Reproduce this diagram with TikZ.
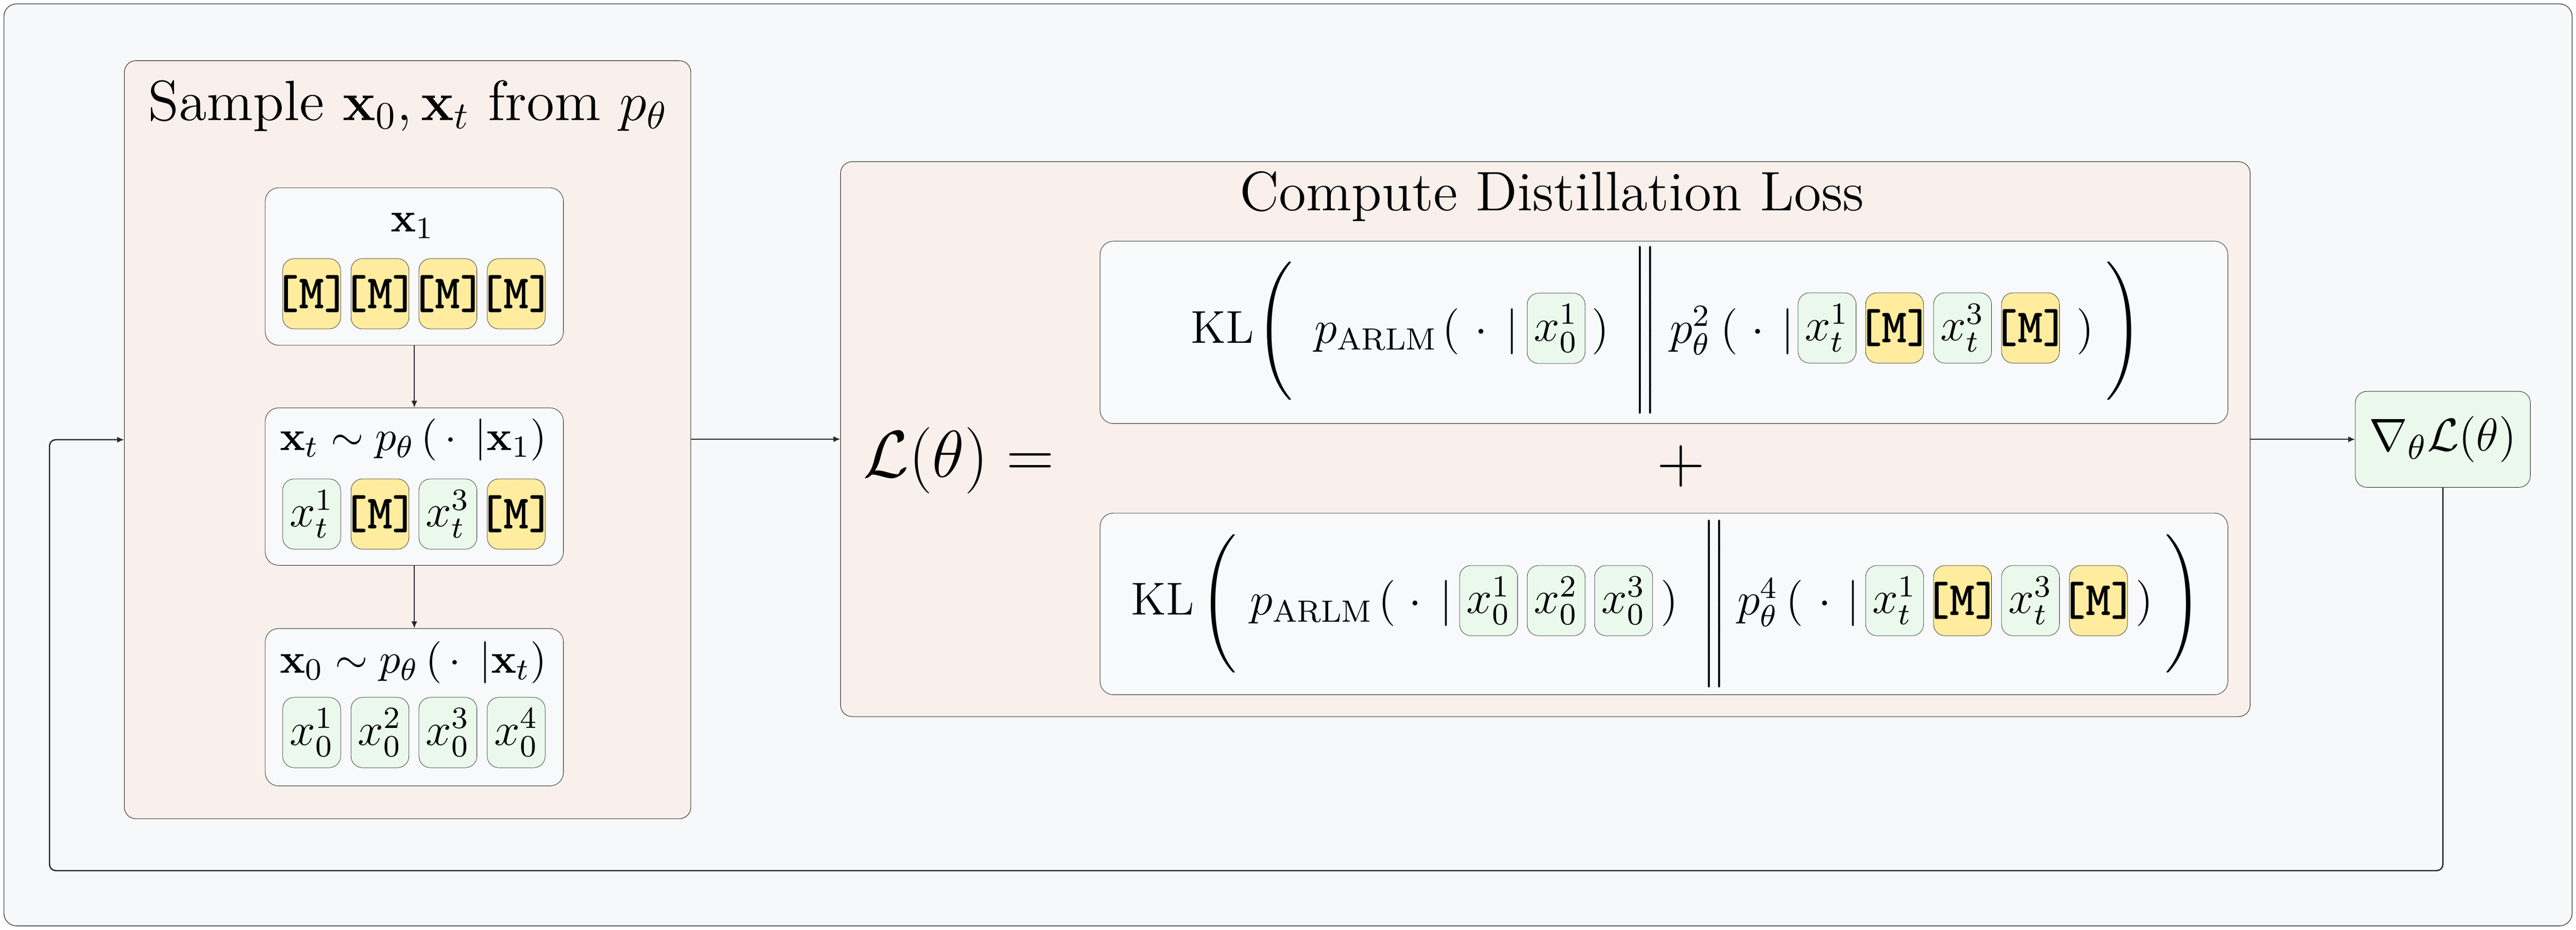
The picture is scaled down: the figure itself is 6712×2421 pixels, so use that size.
\documentclass[tikz,border=0pt]{standalone}
\usepackage{exscale}
\usetikzlibrary{arrows.meta}
\definecolor{bgc}{RGB}{247,248,250}
\definecolor{panelc}{RGB}{249,240,236}
\definecolor{boxc}{RGB}{247,249,251}
\definecolor{greenc}{RGB}{234,249,236}
\definecolor{yellowc}{RGB}{255,236,158}
\definecolor{linec}{RGB}{40,40,40}
\newcommand{\mtok}{\makebox[0pt]{\fontsize{12.5}{14}\selectfont\ttfamily\bfseries [M]}}
\newcommand{\tcell}[1]{\makebox[0pt]{#1}}
\newcommand{\bigdelim}[2]{$\nulldelimiterspace=0pt\left#1\vcenter to #2{}\right.$}
\newcommand{\bigdelimr}[2]{$\nulldelimiterspace=0pt\left.\vcenter to #2{}\right#1$}
\begin{document}
\begin{tikzpicture}[x=0.1pt,y=-0.1pt,
  outerbox/.style={draw=black!65, line width=0.22pt, fill=bgc, rounded corners=3.3pt, inner sep=0pt},
  panel/.style={draw=linec, line width=0.14pt, fill=panelc, rounded corners=3pt, inner sep=0pt},
  inbox/.style={draw=linec, line width=0.12pt, fill=boxc, rounded corners=3.5pt, inner sep=0pt},
  tile/.style={draw=linec, line width=0.1pt, rounded corners=3pt, minimum width=15.1pt, minimum height=18.3pt, inner sep=0pt, font=\fontsize{12}{14}\selectfont},
  mtile/.style={tile, fill=yellowc},
  gtile/.style={tile, fill=greenc},
  fm/.style={inner sep=0pt, anchor=base, font=\fontsize{12}{14}\selectfont},
  fd/.style={inner sep=0pt, anchor=center, font=\fontsize{12}{14}\selectfont},
  lab/.style={inner sep=0pt, anchor=base, font=\fontsize{11}{13}\selectfont},
  ttl/.style={inner sep=0pt, anchor=base, font=\fontsize{14.8}{17}\selectfont},
  arr/.style={-{Latex[length=1.8pt,width=1.6pt]}, line width=0.34pt, draw=linec},
  gradbox/.style={draw=linec, line width=0.12pt, fill=greenc, rounded corners=3pt, inner sep=0pt, minimum width=45.6pt, minimum height=25pt, font=\fontsize{13}{15}\selectfont}
]
\useasboundingbox (0,0) rectangle (6712,2421);
% background
\node[outerbox, minimum width=669.2pt, minimum height=240.1pt] (bg) at (3356,1210.5) {};

% left panel
\node[panel, minimum width=147.6pt, minimum height=197.4pt] (lp) at (1062,1145) {};
\node[ttl] (t1) at (1063,313) {Sample $\mathbf{x}_0, \mathbf{x}_t$ from $p_\theta$};

\node[inbox, minimum width=77.7pt, minimum height=41pt] (b1) at (1079.5,694) {};
\node[inbox, minimum width=77.7pt, minimum height=41pt] (b2) at (1079.5,1267) {};
\node[inbox, minimum width=77.7pt, minimum height=41pt] (b3) at (1079.5,1841.5) {};

\node[lab] (l1) at (1075,604) {$\mathbf{x}_1$};
\node[lab] (l2) at (1077,1173) {$\mathbf{x}_t \sim p_\theta\,(\,\cdot\;\,|\mathbf{x}_1)$};
\node[lab] (l3) at (1077,1753) {$\mathbf{x}_0 \sim p_\theta\,(\,\cdot\;\,|\mathbf{x}_t)$};

\node[mtile] (a1) at (812,765) {\mtok};
\node[mtile] (a2) at (990,765) {\mtok};
\node[mtile] (a3) at (1167,765) {\mtok};
\node[mtile] (a4) at (1345,765) {\mtok};

\node[gtile] (c1) at (812,1338.5) {\tcell{$x_t^1$}};
\node[mtile] (c2) at (990,1338.5) {\mtok};
\node[gtile] (c3) at (1167,1338.5) {\tcell{$x_t^3$}};
\node[mtile] (c4) at (1345,1338.5) {\mtok};

\node[gtile] (d1) at (812,1907.5) {\tcell{$x_0^1$}};
\node[gtile] (d2) at (990,1907.5) {\tcell{$x_0^2$}};
\node[gtile] (d3) at (1167,1907.5) {\tcell{$x_0^3$}};
\node[gtile] (d4) at (1345,1907.5) {\tcell{$x_0^4$}};

\draw[arr] (b1) -- (b2);
\draw[arr] (b2) -- (b3);

% middle panel
\node[panel, minimum width=367.3pt, minimum height=144.5pt] (mp) at (4026.5,1143.5) {};
\node[ttl, font=\fontsize{14.5}{17}\selectfont] (t2) at (4044,548) {Compute Distillation Loss};
\node[inner sep=0pt, anchor=base, font=\fontsize{17}{20}\selectfont] (lhs) at (2498,1242) {$\mathcal{L}(\theta) =$};
\node[inbox, minimum width=293.9pt, minimum height=47.5pt] (kl1) at (4335.5,865.5) {};
\node[inbox, minimum width=293.9pt, minimum height=47.3pt] (kl2) at (4335.5,1572.5) {};
\node[inner sep=0pt, font=\fontsize{17.5}{20}\selectfont] (plus) at (4380,1214) {$+$};

% first KL term
\node[fm] (p1kl) at (3185,893) {$\mathrm{KL}$};
\node[fd] (p1bl) at (3321,862) {\bigdelim{(}{34pt}};
\node[fm, anchor=base east] (p1p) at (3748,893) {$p_{\mathrm{ARLM}}$};
\node[fm] (p1o) at (3781,893) {$($};
\node[fm] (p1d) at (3859,893) {$\cdot$};
\node[fm] (p1v) at (3940,893) {$|$};
\node[gtile] (p1t1) at (4054.5,855) {\tcell{$x_0^1$}};
\node[fm] (p1c) at (4170,893) {$)$};
\node[fd] (p1n) at (4287,860) {\bigdelim{\|}{40pt}};
\node[fm] (p1q) at (4404,893) {$p_\theta^2$};
\node[fm] (p1o2) at (4506,893) {$($};
\node[fm] (p1d2) at (4580,893) {$\cdot$};
\node[fm] (p1v2) at (4658,893) {$|$};
\node[gtile] (p1s1) at (4760.5,854) {\tcell{$x_t^1$}};
\node[mtile] (p1s2) at (4936.5,854) {\mtok};
\node[gtile] (p1s3) at (5113.5,854) {\tcell{$x_t^3$}};
\node[mtile] (p1s4) at (5290.5,854) {\mtok};
\node[fm] (p1c2) at (5433,893) {$)$};
\node[fd] (p1br) at (5534,862) {\bigdelimr{)}{34pt}};

% second KL term
\node[fm] (p2kl) at (3030,1601) {$\mathrm{KL}$};
\node[fd] (p2bl) at (3175,1572) {\bigdelim{(}{34pt}};
\node[fm, anchor=base east] (p2p) at (3580,1601) {$p_{\mathrm{ARLM}}$};
\node[fm] (p2o) at (3615,1601) {$($};
\node[fm] (p2d) at (3687,1601) {$\cdot$};
\node[fm] (p2v) at (3768,1601) {$|$};
\node[gtile] (p2t1) at (3878.5,1564) {\tcell{$x_0^1$}};
\node[gtile] (p2t2) at (4054.5,1564) {\tcell{$x_0^2$}};
\node[gtile] (p2t3) at (4230.5,1564) {\tcell{$x_0^3$}};
\node[fm] (p2c) at (4350,1601) {$)$};
\node[fd] (p2n) at (4466,1572) {\bigdelim{\|}{40pt}};
\node[fm] (p2q) at (4580,1601) {$p_\theta^4$};
\node[fm] (p2o2) at (4676,1601) {$($};
\node[fm] (p2d2) at (4754,1601) {$\cdot$};
\node[fm] (p2v2) at (4828,1601) {$|$};
\node[gtile] (p2s1) at (4936.5,1564) {\tcell{$x_t^1$}};
\node[mtile] (p2s2) at (5113.5,1564) {\mtok};
\node[gtile] (p2s3) at (5290.5,1564) {\tcell{$x_t^3$}};
\node[mtile] (p2s4) at (5467.5,1564) {\mtok};
\node[fm] (p2c2) at (5587,1601) {$)$};
\node[fd] (p2br) at (5689,1572) {\bigdelimr{)}{34pt}};

% gradient
\node[gradbox] (grad) at (6365,1144) {$\nabla_\theta\mathcal{L}(\theta)$};

% connectors
\draw[arr] (lp.east |- mp.west) -- (mp.west);
\draw[arr] (mp.east |- grad.west) -- (grad.west);
\coordinate (lc) at (129,2267);
\draw[arr, rounded corners=1.6pt] (grad.south) |- (lc) |- (lp.west);
\end{tikzpicture}
\end{document}
